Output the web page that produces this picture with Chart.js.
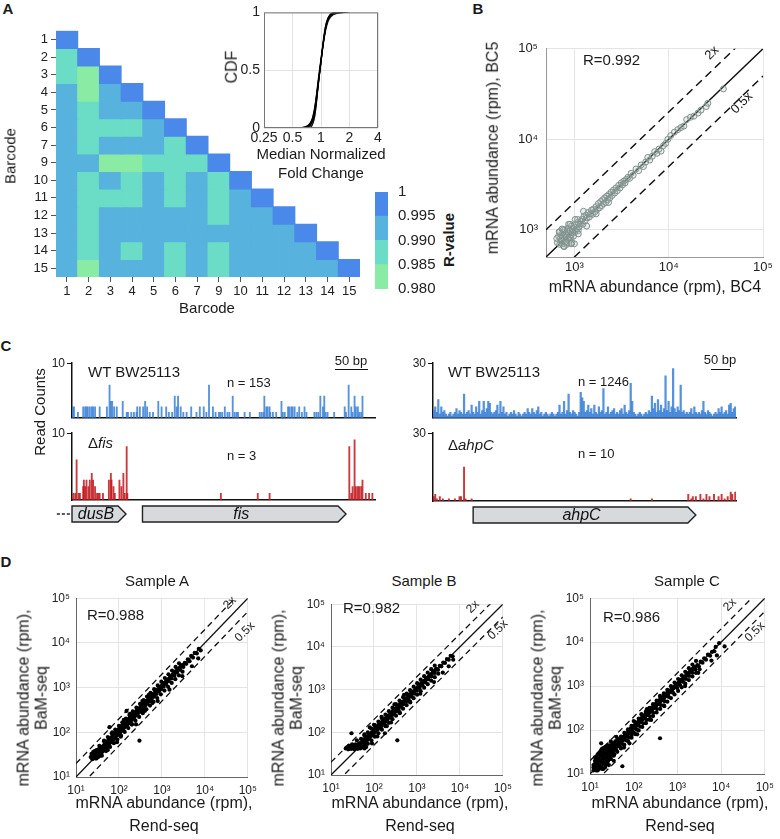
<!DOCTYPE html>
<html>
<head>
<meta charset="utf-8">
<script src="https://cdn.jsdelivr.net/npm/chart.js@4.4.1/dist/chart.umd.min.js"></script>
<style>
  html, body { margin: 0; padding: 0; background: #fff; }
  #stage { position: relative; width: 780px; height: 839px; overflow: hidden;
    font-family: 'Liberation Sans', Arial, sans-serif; color: #1a1a1a; }
  #stage canvas, #stage .t, #stage .sb { position: absolute; }
  .t { white-space: nowrap; line-height: 1.15; }
  .sb { height: 0; border-top: 1.5px solid #111; }
</style>
</head>
<body>
<div id="stage"></div>
<script>
// ---- A: barcode correlation heatmap ----
const barcodeLabels = ['1', '2', '3', '4', '5', '6', '7', '9', '10', '11', '12', '13', '14', '15'];
// lower triangle, one row per barcode
const rValues = [
  [1],
  [0.988, 1],
  [0.988, 0.983, 1],
  [0.992, 0.983, 0.992, 1],
  [0.992, 0.988, 0.992, 0.992, 1],
  [0.992, 0.988, 0.988, 0.988, 0.992, 1],
  [0.992, 0.988, 0.992, 0.992, 0.992, 0.988, 1],
  [0.992, 0.992, 0.983, 0.983, 0.988, 0.988, 0.988, 1],
  [0.992, 0.988, 0.992, 0.988, 0.992, 0.988, 0.992, 0.988, 1],
  [0.992, 0.988, 0.988, 0.988, 0.992, 0.988, 0.992, 0.988, 0.992, 1],
  [0.992, 0.988, 0.992, 0.992, 0.992, 0.992, 0.992, 0.988, 0.992, 0.992, 1],
  [0.992, 0.988, 0.992, 0.992, 0.992, 0.992, 0.992, 0.992, 0.992, 0.992, 0.992, 1],
  [0.992, 0.988, 0.992, 0.988, 0.992, 0.988, 0.992, 0.988, 0.992, 0.992, 0.992, 0.992, 1],
  [0.992, 0.983, 0.992, 0.992, 0.992, 0.988, 0.992, 0.988, 0.992, 0.992, 0.992, 0.992, 0.992, 1],
];
const rBreaks = [0.98, 0.985, 0.99, 0.995, 1];
const rColors = ['#8aeba5', '#6bdcc6', '#57b2dd', '#4a88e9'];

// inset: CDF of median normalized fold change (some of the overlapping curves)
const cdfTicks = [0.25, 0.5, 1, 2, 4];
const cdfYTicks = [0, 0.5, 1];
const cdfCurves = [
  [[0.55, 0], [0.7, 0.015], [0.78, 0.05], [0.84, 0.14], [0.9, 0.3], [0.95, 0.45], [1.0, 0.6], [1.05, 0.74], [1.1, 0.86], [1.18, 0.95], [1.3, 0.99], [1.5, 1], [1.9, 1]],
  [[0.65, 0], [0.76, 0.03], [0.83, 0.1], [0.88, 0.22], [0.93, 0.38], [0.97, 0.5], [1.02, 0.64], [1.08, 0.8], [1.15, 0.92], [1.25, 0.98], [1.45, 1]],
  [[0.72, 0], [0.8, 0.04], [0.86, 0.13], [0.91, 0.28], [0.96, 0.46], [1.0, 0.58], [1.05, 0.72], [1.12, 0.86], [1.2, 0.95], [1.35, 0.99], [1.6, 1]],
  [[0.6, 0], [0.74, 0.02], [0.82, 0.07], [0.87, 0.17], [0.92, 0.33], [0.98, 0.52], [1.04, 0.7], [1.1, 0.83], [1.17, 0.92], [1.28, 0.97], [1.55, 1], [2.0, 1]],
  [[0.78, 0], [0.83, 0.05], [0.88, 0.16], [0.93, 0.34], [0.97, 0.48], [1.01, 0.6], [1.06, 0.75], [1.1, 0.85], [1.16, 0.93], [1.24, 0.98], [1.35, 1]],
  [[0.68, 0], [0.79, 0.04], [0.85, 0.12], [0.9, 0.26], [0.95, 0.42], [0.99, 0.54], [1.03, 0.66], [1.09, 0.8], [1.14, 0.89], [1.22, 0.96], [1.4, 1]],
  [[0.58, 0], [0.72, 0.02], [0.81, 0.08], [0.87, 0.2], [0.93, 0.38], [0.99, 0.55], [1.06, 0.73], [1.14, 0.87], [1.22, 0.94], [1.35, 0.98], [1.7, 1]],
  [[0.75, 0], [0.81, 0.03], [0.86, 0.1], [0.9, 0.24], [0.94, 0.4], [0.98, 0.5], [1.03, 0.65], [1.08, 0.78], [1.13, 0.88], [1.2, 0.95], [1.3, 0.99], [1.45, 1]],
  [[0.7, 0], [0.8, 0.05], [0.85, 0.14], [0.89, 0.27], [0.94, 0.44], [1.0, 0.6], [1.07, 0.77], [1.15, 0.9], [1.3, 0.98], [1.8, 1]],
];

// ---- B: BC4 vs BC5 (rpm) ----
const bc4 = [660, 680, 700, 710, 720, 730, 740, 750, 760, 770, 780, 790, 800, 810, 820, 830, 840, 850, 860, 870,
  880, 890, 900, 910, 920, 930, 940, 950, 960, 980, 1000, 1010, 1030, 1050, 1070, 1090, 1100, 1120, 1150, 1180,
  1200, 1230, 1260, 1300, 1330, 1360, 1400, 1440, 1480, 1520, 1560, 1600, 1650, 1700, 1750, 1800, 1850, 1900, 1950, 2000,
  2050, 2100, 2150, 2200, 2260, 2320, 2380, 2450, 2520, 2600, 2680, 2760, 2850, 2950, 3050, 3150, 3250, 3350, 3450, 3550,
  3700, 3850, 4000, 4200, 4500, 4800, 5100, 5400, 5700, 6000, 6300, 6700, 7100, 7500, 7900, 8300, 8800, 9300, 9800, 10500,
  11500, 12500, 13500, 14500, 15500, 17000, 18500, 20500, 22000, 25000, 26000, 38000,
  700, 760, 820, 900, 1000, 1080, 1250, 1350, 1700, 2300,
  650, 690, 740, 780, 870, 920, 1020, 1100];
const bc5 = [720, 850, 690, 800, 760, 880, 700, 820, 930, 660, 780, 1000, 740, 870, 830, 690, 960, 790, 1050, 900,
  760, 840, 980, 810, 880, 1100, 720, 930, 1000, 850, 1060, 940, 990, 1150, 1020, 1210, 980, 1080, 1160, 1240,
  1300, 1150, 1400, 1250, 1450, 1350, 1550, 1380, 1500, 1650, 1480, 1700, 1580, 1800, 1680, 1950, 1750, 2050, 1850, 2150,
  1950, 2250, 2000, 2350, 2150, 2450, 2250, 2600, 2400, 2750, 2550, 2900, 2700, 3100, 2900, 3300, 3150, 3450, 3300, 3600,
  3800, 3700, 4200, 4000, 4700, 4500, 5200, 5000, 5600, 6300, 5900, 6500, 7300, 7000, 7800, 7400, 8500, 9000, 10000, 11000,
  12000, 12800, 13500, 14000, 16500, 17500, 18000, 19500, 21000, 23000, 25000, 36000,
  950, 1000, 720, 1150, 700, 1300, 1600, 1100, 1500, 2000,
  800, 950, 1020, 650, 1150, 700, 1300, 900];
const foldLines = [1, 2, 0.5];
const decadeTicks = [10, 100, 1000, 10000, 100000];
const decadeTickLabels = ['10¹', '10²', '10³', '10⁴', '10⁵'];

// ---- C: read counts along fis locus (bp) ----
const fisWtPos = [1, 3, 9, 17, 20, 22, 24, 27, 30, 32, 35, 42, 53, 57, 59, 61, 64, 68, 77, 83,
  85, 90, 94, 98, 99, 103, 108, 111, 114, 118, 123, 131, 136, 143, 147, 152, 156, 159, 161, 165,
  169, 174, 181, 189, 194, 200, 204, 208, 214, 218, 223, 225, 228, 232, 236, 239, 244, 247, 250, 252,
  262, 270, 285, 288, 291, 292, 295, 297, 300, 301, 305, 310, 318, 320, 323, 328, 330, 333, 335, 338,
  342, 345, 349, 353, 356, 368, 371, 374, 377, 381, 383, 385, 388, 398, 414, 416, 420, 424, 426, 429,
  431, 434, 436, 439, 441];
const fisWtCounts = [2, 2, 1, 2, 2, 2, 2, 2, 2, 2, 2, 2, 2, 6, 3, 3, 2, 2, 3, 1,
  1, 1, 1, 1, 2, 2, 2, 3, 2, 1, 1, 3, 2, 2, 1, 1, 4, 2, 4, 2,
  1, 1, 2, 1, 2, 2, 1, 6, 2, 1, 1, 1, 1, 2, 1, 1, 4, 1, 1, 1,
  1, 1, 1, 1, 1, 4, 2, 2, 2, 1, 1, 1, 3, 1, 1, 2, 2, 2, 2, 2,
  1, 2, 1, 2, 1, 1, 1, 1, 4, 2, 4, 1, 1, 1, 2, 1, 6, 2, 1, 4,
  2, 2, 1, 1, 4];
const fisMutPos = [2, 5, 7, 10, 12, 17, 18, 20, 22, 25, 27, 30, 32, 35, 38, 40, 42, 47, 56, 59,
  60, 63, 65, 72, 75, 78, 80, 83, 84, 226, 282, 300, 421, 424, 426, 429, 431, 434, 436, 439,
  441, 446, 451, 456];
const fisMutCounts = [1, 1, 6, 1, 1, 2, 3, 2, 3, 2, 3, 4, 3, 2, 1, 1, 1, 1, 3, 4,
  3, 2, 1, 3, 2, 4, 1, 8, 1, 1, 1, 1, 8, 1, 2, 9, 2, 2, 2, 2,
  3, 1, 1, 1];
const fisGenes = [{ name: 'dusB', start: 0, end: 82, leadFrom: -23 }, { name: 'fis', start: 107, end: 416 }];

// ---- C: read counts along ahpC locus (4-bp bins) ----
const ahpcWtCounts = [
  4, 6, 3, 10, 2, 6, 3, 4, 2, 1, 2, 3, 1, 2, 3, 5, 2, 4, 3, 2,
  13, 2, 3, 4, 2, 7, 3, 2, 6, 3, 9, 2, 4, 9, 3, 5, 9, 8, 3, 2,
  3, 4, 7, 2, 9, 3, 6, 2, 3, 1, 2, 3, 2, 4, 2, 1, 3, 2, 1, 2,
  3, 2, 5, 3, 2, 5, 3, 2, 4, 6, 2, 3, 1, 2, 3, 2, 1, 2, 3, 2,
  1, 2, 3, 7, 2, 3, 9, 2, 4, 13, 3, 2, 4, 3, 2, 1, 3, 14, 11, 9,
  3, 4, 7, 3, 5, 2, 7, 3, 2, 6, 3, 4, 16, 2, 3, 6, 2, 3, 4, 5,
  2, 3, 2, 4, 5, 2, 7, 3, 2, 4, 19, 9, 3, 2, 1, 2, 3, 2, 1, 2,
  3, 2, 4, 3, 12, 5, 8, 3, 10, 4, 7, 3, 5, 23, 4, 9, 3, 6, 27, 5,
  3, 6, 4, 18, 3, 4, 2, 3, 2, 3, 5, 2, 6, 3, 2, 3, 2, 4, 9, 3,
  2, 4, 3, 2, 1, 2, 3, 2, 5, 3, 6, 2, 3, 4, 2, 7, 8, 3, 5, 6];
const ahpcMutBins = [0, 1, 2, 4, 6, 10, 14, 17, 18, 20, 21, 25, 130, 144, 168, 170, 171, 173, 176, 178,
  180, 182, 185, 188, 190, 192, 194, 196, 197, 199];
const ahpcMutCounts = [2, 3, 1, 2, 1, 1, 1, 2, 2, 15, 1, 1, 1, 1, 3, 1, 2, 2, 3, 1,
  3, 2, 3, 2, 3, 1, 2, 4, 3, 4];
const ahpcGenes = [{ name: 'ahpC', start: 26, end: 173 }];

// ---- D: BaM-seq vs Rend-seq (rpm), [Rend-seq, BaM-seq] ----
const sampleA = [
  [22, 28], [23, 33], [24, 25], [25, 30], [25, 36], [26, 27], [27, 32], [27, 38], [28, 29], [29, 34],
  [30, 26], [30, 40], [31, 31], [32, 36], [33, 28], [34, 42], [35, 33], [36, 38], [37, 30], [38, 45],
  [40, 36], [41, 48], [43, 42], [45, 52], [46, 40], [48, 56], [50, 47], [52, 60], [54, 50], [56, 66],
  [58, 55], [60, 72], [62, 58], [65, 75], [67, 62], [70, 82], [72, 68], [75, 90], [78, 72], [80, 95],
  [83, 80], [86, 102], [90, 85], [93, 110], [96, 92], [100, 118], [100, 96], [105, 128], [108, 100], [112, 135],
  [116, 110], [120, 145], [125, 118], [130, 155], [135, 128], [140, 168], [145, 138], [150, 180], [158, 150], [165, 198],
  [172, 160], [180, 215], [188, 175], [196, 235], [205, 195], [215, 258], [225, 210], [235, 280], [245, 235], [258, 305],
  [270, 255], [285, 335], [300, 285], [315, 370], [330, 310], [350, 410], [370, 350], [390, 455], [410, 390], [435, 505],
  [460, 440], [490, 570], [520, 495], [550, 630], [580, 560], [620, 720], [660, 630], [700, 800], [750, 720], [800, 900],
  [850, 820], [900, 1020], [960, 920], [1020, 1150], [1100, 1050], [1180, 1300], [1260, 1200], [1350, 1500], [1450, 1400], [1560, 1700],
  [1680, 1600], [1800, 1950], [1950, 1850], [2100, 2300], [2250, 2150], [2450, 2650], [2650, 2500], [2900, 3100], [3150, 2900], [3400, 3600],
  [3700, 3400], [4000, 4300], [4400, 3900], [4800, 5100], [5300, 4700], [5800, 6000], [6500, 5800], [7200, 7400], [8000, 6800],
  [70, 100], [110, 80], [200, 150], [180, 260], [400, 300], [350, 500], [90, 60], [130, 190], [600, 450], [500, 700],
  [45, 65], [55, 40], [300, 65], [150, 300], [60, 130], [250, 150], [1500, 900], [3000, 1800], [5000, 3000], [800, 500], [7000, 4500],
  [26, 33], [28, 26], [29, 38], [31, 28], [33, 34], [34, 30], [36, 44], [38, 35], [39, 40], [42, 38],
  [44, 47], [47, 44], [49, 52], [51, 55], [53, 46], [55, 58], [57, 52], [59, 62], [61, 66], [64, 60],
  [66, 70], [68, 76], [71, 66], [73, 78], [76, 84], [79, 80], [82, 88], [85, 94], [88, 96], [91, 100],
  [95, 104], [98, 108], [103, 112], [107, 122], [111, 118], [115, 128], [119, 124], [123, 134], [128, 140], [133, 146],
  [138, 152], [143, 160], [148, 162], [154, 170], [160, 175], [168, 185], [176, 192], [184, 205], [192, 212], [200, 222],
  [210, 230], [220, 245], [230, 252], [240, 265], [252, 278], [265, 290], [278, 305], [292, 320], [308, 338], [322, 352],
  [340, 372], [360, 392], [380, 415], [400, 440], [425, 465], [450, 495], [475, 520], [505, 555], [535, 590], [565, 620],
  [600, 660], [640, 700], [680, 750], [725, 790], [775, 850], [825, 910], [880, 960], [940, 1030], [1000, 1100], [1070, 1170],
  [1140, 1250], [1220, 1330], [1300, 1420], [1400, 1520], [1500, 1640], [1620, 1760], [1740, 1880], [1880, 2030], [2020, 2180], [2180, 2340],
  [2350, 2520], [2550, 2730], [2750, 2950], [3000, 3200],
  [35, 50], [45, 63], [55, 78], [68, 95], [82, 115], [100, 140], [120, 168], [145, 203], [175, 245], [210, 295],
  [255, 357], [310, 434], [375, 525], [450, 630], [545, 763], [660, 924], [800, 1120], [970, 1360], [1170, 1640], [1420, 1990],
  [1720, 2400], [2080, 2900], [2500, 3500],
  [40, 30], [50, 38], [62, 47], [76, 57], [92, 69], [112, 84], [136, 102], [165, 124], [200, 150], [242, 182],
  [295, 221], [358, 268], [435, 326], [528, 396], [640, 480], [777, 583], [943, 707], [1145, 859], [1390, 1040], [1690, 1270],
  [2050, 1540], [2490, 1870], [3020, 2270]];
const sampleB = [
  [22, 42], [25, 40], [28, 44], [30, 41], [32, 46], [35, 40], [38, 43], [40, 48], [42, 41], [45, 45],
  [48, 42], [50, 50], [53, 44], [56, 47], [60, 42], [63, 52], [66, 45], [70, 55], [34, 50], [45, 55],
  [55, 60], [58, 68], [62, 64], [66, 75], [70, 68], [74, 85], [78, 75], [82, 92], [86, 82], [90, 100],
  [95, 90], [100, 112], [100, 96], [106, 125], [110, 105], [116, 135], [122, 115], [128, 150], [135, 128], [142, 165],
  [150, 140], [158, 185], [166, 160], [175, 205], [185, 175], [195, 225], [205, 198], [218, 250], [230, 220], [245, 280],
  [260, 245], [275, 315], [290, 275], [310, 355], [330, 310], [350, 400], [375, 350], [400, 455], [425, 400], [455, 520],
  [485, 455], [520, 590], [560, 520], [600, 680], [640, 600], [690, 780], [740, 690], [800, 900], [860, 800], [930, 1050],
  [1000, 940], [1080, 1200], [1160, 1100], [1250, 1400], [1350, 1280], [1460, 1600], [1580, 1500], [1700, 1850], [1850, 1750], [2000, 2200],
  [2180, 2050], [2380, 2600], [2600, 2450], [2850, 3050], [3100, 2900], [3400, 3600], [3700, 3500], [4100, 4300], [4500, 4200], [5000, 5200],
  [5500, 5000], [6100, 6200], [6800, 6000],
  [80, 130], [120, 80], [200, 140], [150, 230], [400, 280], [300, 450], [100, 150], [60, 90], [700, 500], [500, 750],
  [250, 170], [40, 65], [30, 95], [350, 65], [180, 95], [1200, 800], [2500, 1500], [4000, 2500], [5500, 3500], [7000, 5000], [90, 55],
  [52, 56], [57, 62], [61, 58], [64, 70], [68, 64], [72, 78], [76, 72], [80, 88], [84, 86], [88, 94],
  [92, 96], [97, 104], [102, 108], [108, 114], [113, 120], [119, 126], [125, 134], [131, 140], [138, 146], [146, 154],
  [154, 164], [162, 172], [170, 182], [180, 190], [190, 202], [200, 212], [212, 226], [224, 238], [237, 252], [252, 268],
  [267, 284], [282, 300], [300, 318], [318, 338], [338, 358], [360, 382], [382, 405], [406, 430], [432, 458], [460, 488],
  [490, 520], [522, 555], [556, 590], [592, 628], [630, 668], [672, 712], [716, 760], [764, 810], [815, 865], [870, 922],
  [930, 985], [995, 1055], [1065, 1130], [1140, 1210], [1220, 1295], [1310, 1390], [1400, 1490], [1500, 1600], [1610, 1720], [1730, 1850],
  [1860, 1990], [2000, 2140], [2150, 2300], [2320, 2480], [2500, 2680], [2700, 2900],
  [24, 45], [27, 41], [29, 47], [33, 43], [36, 47], [39, 45], [43, 49], [47, 47], [51, 45], [55, 50],
  [58, 46], [62, 48], [26, 48], [31, 52], [37, 52], [44, 52], [49, 56], [54, 54], [59, 57], [65, 60],
  [50, 70], [60, 84], [72, 100], [87, 122], [105, 147], [127, 178], [153, 214], [185, 259], [223, 312], [270, 378],
  [326, 456], [394, 552], [476, 666], [575, 805], [694, 972], [838, 1173], [1012, 1417], [1222, 1711], [1476, 2066], [1782, 2495],
  [2152, 3013], [2600, 3640],
  [60, 45], [72, 54], [87, 65], [105, 79], [127, 95], [153, 115], [185, 139], [223, 167], [270, 203], [326, 245],
  [394, 296], [476, 357], [575, 431], [694, 521], [838, 629], [1012, 759], [1222, 917], [1476, 1107], [1782, 1337], [2152, 1614],
  [2600, 1950], [3140, 2355]];
const sampleC = [
  [12, 12], [12, 16], [13, 20], [13, 13], [14, 25], [14, 15], [15, 18], [15, 12], [16, 30], [16, 22],
  [17, 14], [17, 26], [18, 19], [18, 35], [19, 13], [19, 24], [20, 30], [20, 17], [21, 40], [22, 22],
  [22, 14], [23, 28], [24, 35], [24, 19], [25, 45], [26, 25], [27, 16], [28, 32], [29, 40], [30, 22],
  [32, 48], [34, 30], [36, 42], [38, 55], [40, 35], [42, 50], [45, 62], [48, 42], [50, 58], [53, 70],
  [56, 48], [60, 68], [63, 82], [67, 58], [70, 80], [74, 95], [78, 68], [82, 92], [86, 110], [90, 78],
  [95, 105], [100, 125], [100, 88], [106, 118], [112, 140], [118, 102], [125, 140], [132, 165], [140, 120], [148, 170],
  [156, 195], [165, 142], [175, 200], [185, 230], [196, 170], [208, 240], [220, 275], [235, 205], [250, 290], [265, 330],
  [280, 245], [300, 345], [320, 395], [340, 300], [365, 420], [390, 480], [415, 370], [445, 510], [475, 580], [510, 455],
  [550, 630], [590, 720], [630, 570], [680, 780], [730, 860], [790, 710], [850, 970], [920, 1080], [990, 900],
  [1070, 1200], [1150, 1050], [1250, 1400], [1350, 1250], [1460, 1600], [1580, 1450], [1700, 1850], [1850, 1700], [2000, 2200], [2200, 2000],
  [2400, 2600], [2600, 2400], [2850, 3000], [3100, 2800], [3400, 3600], [3750, 3400], [4100, 4300], [4500, 4000], [5000, 5200], [5600, 4900],
  [6200, 6000], [7000, 6200], [7500, 7800],
  [40, 70], [60, 40], [100, 160], [120, 80], [200, 300], [250, 170], [30, 55], [80, 50], [500, 350], [400, 600],
  [150, 230], [35, 20], [55, 15], [18, 50], [400, 65], [1500, 1000], [3000, 2000], [6000, 3800], [8000, 5000], [12000, 8000], [9000, 9500],
  [12, 14], [13, 17], [13, 24], [14, 12], [14, 19], [15, 22], [15, 28], [16, 16], [16, 13], [17, 20],
  [17, 32], [18, 15], [18, 27], [19, 21], [19, 38], [20, 13], [20, 24], [21, 18], [21, 33], [22, 28],
  [23, 16], [23, 42], [24, 24], [25, 30], [25, 18], [26, 38], [26, 20], [27, 28], [28, 22], [28, 45],
  [29, 28], [30, 35], [31, 26], [32, 40], [33, 32], [34, 50], [35, 36], [36, 28], [37, 46], [39, 40],
  [41, 44], [44, 52], [47, 50], [51, 60], [55, 58], [58, 64], [62, 72], [66, 70], [70, 76], [75, 84],
  [80, 86], [85, 96], [90, 98], [96, 108], [102, 112], [108, 124], [115, 126], [122, 138], [130, 146], [138, 152],
  [146, 164], [155, 174], [164, 184], [174, 195], [185, 208], [197, 220], [210, 236], [224, 250], [238, 266], [254, 284],
  [270, 302], [288, 322], [306, 342], [326, 364], [348, 388], [370, 414], [395, 440], [420, 470], [448, 500], [478, 534],
  [510, 570], [545, 608], [582, 650], [620, 694], [662, 740], [706, 790], [754, 842], [805, 900], [860, 960], [920, 1025],
  [985, 1095], [1050, 1170], [1125, 1250], [1200, 1340], [1290, 1430], [1380, 1530], [1480, 1640], [1590, 1760], [1700, 1890], [1830, 2030],
  [1960, 2180], [2110, 2340], [2270, 2510], [2450, 2700],
  [20, 28], [24, 34], [29, 41], [35, 49], [42, 59], [51, 71], [61, 86], [74, 104], [89, 125], [108, 151],
  [130, 182], [157, 220], [190, 266], [229, 321], [277, 388], [334, 468], [404, 566], [488, 683], [589, 825], [711, 995],
  [859, 1203], [1037, 1452], [1253, 1754], [1513, 2118], [1827, 2558], [2206, 3088], [2665, 3731],
  [24, 18], [29, 22], [35, 26], [42, 32], [51, 38], [61, 46], [74, 56], [89, 67], [108, 81], [130, 98],
  [157, 118], [190, 143], [229, 172], [277, 208], [334, 251], [404, 303], [488, 366], [589, 442], [711, 533], [859, 644],
  [1037, 778], [1253, 940], [1513, 1135], [1827, 1370], [2206, 1655], [2665, 1999], [3218, 2414]];

// ------------------------------------------------------------------
Chart.defaults.font.family = "'Liberation Sans', Arial, sans-serif";
Chart.defaults.color = '#222';

const stage = document.getElementById('stage');

function place(id, area, pad) {
  const c = document.createElement('canvas');
  const w = area.width + pad.left + pad.right;
  const h = area.height + pad.top + pad.bottom;
  c.id = id;
  c.width = w;
  c.height = h;
  c.style.left = (area.left - pad.left) + 'px';
  c.style.top = (area.top - pad.top) + 'px';
  c.style.width = w + 'px';
  c.style.height = h + 'px';
  stage.appendChild(c);
  return c;
}

function label(html, x, y, opts = {}) {
  const d = document.createElement('div');
  d.className = 't';
  d.innerHTML = html;
  d.style.left = x + 'px';
  d.style.top = y + 'px';
  d.style.fontSize = (opts.size || 15) + 'px';
  if (opts.bold) d.style.fontWeight = 'bold';
  if (opts.align) d.style.textAlign = opts.align;
  const ax = opts.anchor === 'left' ? '0' : '-50%';
  d.style.transform = `translate(${ax}, -50%)` + (opts.rotate ? ` rotate(${opts.rotate}deg)` : '');
  stage.appendChild(d);
}

function scaleBar(x0, x1, y) {
  const d = document.createElement('div');
  d.className = 'sb';
  d.style.left = x0 + 'px';
  d.style.top = y + 'px';
  d.style.width = (x1 - x0) + 'px';
  stage.appendChild(d);
}

const fixW = (w) => (scale) => { scale.width = w; };
const fixH = (h) => (scale) => { scale.height = h; };

const base = () => ({
  responsive: false,
  animation: false,
  devicePixelRatio: 1,
  events: [],
});
const noLegend = { legend: { display: false }, tooltip: { enabled: false } };

function colorFor(v) {
  const k = rBreaks.findIndex((b, i) => i > 0 && v < b);
  return rColors[k === -1 ? rColors.length - 1 : k - 1];
}

const framePlugin = {
  id: 'frame',
  afterDatasetsDraw(chart) {
    const { ctx, chartArea: a } = chart;
    ctx.save();
    ctx.strokeStyle = '#777';
    ctx.lineWidth = 1;
    ctx.strokeRect(a.left + 0.5, a.top + 0.5, a.width - 1, a.height - 1);
    ctx.restore();
  },
};

const genePlugin = {
  id: 'genes',
  afterDraw(chart, args, opts) {
    const { ctx, chartArea } = chart;
    const xs = chart.scales.x;
    const top = chartArea.bottom + 6;
    const h = 16;
    opts.list.forEach((g) => {
      const x0 = xs.getPixelForValue(g.start);
      const x1 = xs.getPixelForValue(g.end);
      ctx.save();
      ctx.strokeStyle = '#222';
      ctx.lineWidth = 1.4;
      if (g.leadFrom !== undefined) {
        ctx.setLineDash([3, 2]);
        ctx.beginPath();
        ctx.moveTo(xs.getPixelForValue(g.leadFrom), top + h / 2);
        ctx.lineTo(x0, top + h / 2);
        ctx.stroke();
        ctx.setLineDash([]);
      }
      ctx.beginPath();
      ctx.moveTo(x0, top);
      ctx.lineTo(x1 - 8, top);
      ctx.lineTo(x1, top + h / 2);
      ctx.lineTo(x1 - 8, top + h);
      ctx.lineTo(x0, top + h);
      ctx.closePath();
      ctx.fillStyle = '#d6dadd';
      ctx.fill();
      ctx.stroke();
      ctx.fillStyle = '#111';
      ctx.font = "italic 16px 'Liberation Sans', Arial, sans-serif";
      ctx.textAlign = 'center';
      ctx.textBaseline = 'middle';
      ctx.fillText(g.name, (x0 + x1) / 2 - 3, top + h / 2 + 1);
      ctx.restore();
    });
  },
};

// ---- A: heatmap ----
const heatDatasets = rValues.map((row, i) => ({
  data: row.map((v, j) => ({ x: barcodeLabels[j], y: [i - 0.5, i + 0.5] })),
  backgroundColor: row.map(colorFor),
  borderWidth: 0,
  inflateAmount: 0.5,
  grouped: false,
  barPercentage: 1,
  categoryPercentage: 1,
}));

new Chart(place('heatmap', { left: 56, top: 30, width: 304, height: 247 }, { left: 56, top: 10, right: 10, bottom: 24 }), {
  type: 'bar',
  data: { labels: barcodeLabels, datasets: heatDatasets },
  options: {
    ...base(),
    plugins: noLegend,
    layout: { padding: { top: 10, right: 10 } },
    scales: {
      x: {
        type: 'category',
        offset: true,
        grid: { display: true, drawOnChartArea: false, offset: false, tickLength: 5, color: '#555' },
        border: { display: false },
        ticks: { padding: 2, font: { size: 13 }, autoSkip: false, maxRotation: 0 },
        afterFit: fixH(24),
      },
      y: {
        type: 'linear',
        reverse: true,
        min: -0.5,
        max: barcodeLabels.length - 0.5,
        afterBuildTicks: (s) => { s.ticks = barcodeLabels.map((_, i) => ({ value: i })); },
        ticks: { callback: (v) => barcodeLabels[v], padding: 3, font: { size: 13 } },
        grid: { drawOnChartArea: false, tickLength: 5, color: '#555' },
        border: { display: false },
        afterFit: fixW(56),
      },
    },
  },
});

// colour bar
new Chart(place('colorbar', { left: 375, top: 189, width: 13, height: 103 }, { left: 0, top: 8, right: 52, bottom: 8 }), {
  type: 'bar',
  data: {
    labels: [''],
    datasets: rColors.map((c, i) => ({
      data: [[rBreaks[i], rBreaks[i + 1]]],
      backgroundColor: c,
      borderWidth: 0,
      inflateAmount: 0.5,
      grouped: false,
      barPercentage: 1,
      categoryPercentage: 1,
    })),
  },
  options: {
    ...base(),
    plugins: noLegend,
    layout: { padding: { top: 8, bottom: 8 } },
    scales: {
      x: { display: false },
      y: {
        position: 'right',
        min: rBreaks[0],
        max: rBreaks[rBreaks.length - 1],
        afterBuildTicks: (s) => { s.ticks = rBreaks.map((v) => ({ value: v })); },
        ticks: { callback: (v) => (v === 1 ? '1' : v.toFixed(3)), padding: 2, font: { size: 15 } },
        grid: { display: false },
        border: { display: false },
        afterFit: fixW(52),
      },
    },
  },
});

// inset CDF
new Chart(place('cdf', { left: 264, top: 7, width: 114, height: 121 }, { left: 40, top: 7, right: 16, bottom: 20 }), {
  type: 'scatter',
  data: {
    datasets: cdfCurves.map((curve) => ({
      data: curve.map(([x, y]) => ({ x, y })),
      showLine: true,
      borderColor: 'rgba(0,0,0,0.8)',
      borderWidth: 1.1,
      pointRadius: 0,
      cubicInterpolationMode: 'monotone',
    })),
  },
  options: {
    ...base(),
    plugins: noLegend,
    layout: { padding: { top: 7, right: 16 } },
    scales: {
      x: {
        type: 'logarithmic',
        min: 0.25,
        max: 4,
        afterBuildTicks: (s) => { s.ticks = cdfTicks.map((v) => ({ value: v })); },
        ticks: { callback: (v) => String(v), padding: 2, font: { size: 14 }, autoSkip: false, maxRotation: 0, minRotation: 0 },
        grid: { color: '#e2e2e2', drawTicks: false },
        border: { display: false },
        afterFit: fixH(20),
      },
      y: {
        min: 0,
        max: 1,
        afterBuildTicks: (s) => { s.ticks = cdfYTicks.map((v) => ({ value: v })); },
        ticks: { callback: (v) => String(v), padding: 4, font: { size: 14 } },
        grid: { color: '#e2e2e2', drawTicks: false },
        border: { display: false },
        afterFit: fixW(40),
      },
    },
  },
  plugins: [framePlugin],
});

// ---- log-log scatter panels (B and D) ----
function foldSets(min, max, dash, width) {
  return foldLines.map((k) => ({
    data: [{ x: min, y: k * min }, { x: max, y: k * max }],
    showLine: true,
    pointRadius: 0,
    borderColor: '#111',
    borderWidth: width,
    borderDash: k === 1 ? [] : dash,
    order: 1,
  }));
}

function logAxis(o, dir) {
  return {
    type: 'logarithmic',
    min: o.min,
    max: o.max,
    afterBuildTicks: (s) => {
      s.ticks = decadeTicks.filter((v) => v >= o.min && v <= o.max).map((v) => ({ value: v }));
    },
    ticks: {
      callback: (v) => decadeTickLabels[decadeTicks.indexOf(v)],
      font: { size: o.font },
      padding: dir === 'x' ? o.xPad : o.yPad,
      maxRotation: 0,
      autoSkip: false,
    },
    grid: { color: '#e4e4e4', drawTicks: false },
    border: { color: o.axisColor, width: 1 },
    afterFit: dir === 'x' ? fixH(o.xH) : fixW(o.yW),
  };
}

function logPanel(id, area, pts, o) {
  const pad = { left: o.yW, top: 10, right: o.right, bottom: o.xH };
  return new Chart(place(id, area, pad), {
    type: 'scatter',
    data: {
      datasets: [
        { data: pts, ...o.point, order: 0 },
        ...foldSets(o.min, o.max, o.dash, o.lineWidth),
      ],
    },
    options: {
      ...base(),
      plugins: noLegend,
      layout: { padding: { top: pad.top, right: pad.right } },
      scales: { x: logAxis(o, 'x'), y: logAxis(o, 'y') },
    },
  });
}

logPanel('bc4bc5', { left: 546, top: 43, width: 217, height: 214 },
  bc4.map((x, i) => ({ x, y: bc5[i] })), {
    min: 500, max: 100000, yW: 50, xH: 24, right: 15, font: 13, xPad: 3, yPad: 8,
    axisColor: '#999', dash: [8, 5], lineWidth: 1.5,
    point: { pointRadius: 3, pointBorderWidth: 1, pointBorderColor: '#7f918c', pointBackgroundColor: 'rgba(170,185,180,0.25)' },
  });

const dOpts = {
  min: 10, max: 100000, yW: 42, xH: 22, right: 10, font: 12, xPad: 6, yPad: 6,
  axisColor: '#666', dash: [6, 4], lineWidth: 1.3,
  point: { pointRadius: 2.1, pointBorderWidth: 0, pointBackgroundColor: '#000' },
};
const asPoints = (arr) => arr.map(([x, y]) => ({ x, y }));
logPanel('sampleA', { left: 76, top: 595, width: 177, height: 182 }, asPoints(sampleA), dOpts);
logPanel('sampleB', { left: 331, top: 601, width: 177, height: 174 }, asPoints(sampleB), dOpts);
logPanel('sampleC', { left: 590, top: 595, width: 180, height: 179 }, asPoints(sampleC), dOpts);

// ---- C: read count tracks ----
function track(id, area, pts, color, yMax, xRange, thickness, genes) {
  const pad = { left: 34, top: 8, right: 6, bottom: genes ? 28 : 0 };
  return new Chart(place(id, area, pad), {
    type: 'bar',
    data: { datasets: [{ data: pts, backgroundColor: color, barThickness: thickness, borderWidth: 0 }] },
    options: {
      ...base(),
      plugins: { ...noLegend, genes: { list: genes || [] } },
      layout: { padding: { top: pad.top, right: pad.right, bottom: pad.bottom } },
      scales: {
        x: {
          type: 'linear',
          min: xRange[0],
          max: xRange[1],
          offset: false,
          ticks: { display: false },
          grid: { display: false },
          border: { color: '#111', width: 1.5 },
          afterFit: fixH(0),
        },
        y: {
          min: 0,
          max: yMax,
          afterBuildTicks: (s) => { s.ticks = [{ value: yMax }]; },
          ticks: { padding: 2, font: { size: 12 } },
          grid: { drawOnChartArea: false, tickLength: 5, color: '#111' },
          border: { color: '#111', width: 1.5 },
          afterFit: fixW(pad.left),
        },
      },
    },
    plugins: genes ? [genePlugin] : [],
  });
}

const blue = 'rgba(58,128,214,0.85)';
const red = 'rgba(192,24,28,0.85)';
track('fisWt', { left: 72, top: 362, width: 303, height: 65 },
  fisWtPos.map((x, i) => ({ x, y: fisWtCounts[i] })), blue, 10, [0, 460], 1.2);
track('fisMut', { left: 72, top: 432, width: 303, height: 68 },
  fisMutPos.map((x, i) => ({ x, y: fisMutCounts[i] })), red, 10, [0, 460], 1.2, fisGenes);
track('ahpcWt', { left: 433, top: 362, width: 303, height: 65 },
  ahpcWtCounts.map((y, i) => ({ x: i, y })), blue, 30, [-0.5, 199.5], 1.6);
track('ahpcMut', { left: 433, top: 432, width: 303, height: 69 },
  ahpcMutBins.map((x, i) => ({ x, y: ahpcMutCounts[i] })), red, 30, [-0.5, 199.5], 1.3, ahpcGenes);

// ---- text ----
label('A', 8, 9, { size: 15, bold: true });
label('B', 478, 9, { size: 15, bold: true });
label('C', 6, 346, { size: 15, bold: true });
label('D', 6, 562, { size: 15, bold: true });

label('Barcode', 10, 156, { size: 15, rotate: -90 });
label('Barcode', 207, 308, { size: 15 });
label('CDF', 232, 67, { size: 16, rotate: -90 });
label('Median Normalized', 321, 154, { size: 15 });
label('Fold Change', 321, 173, { size: 15 });
label('R-value', 449, 240, { size: 15, bold: true, rotate: -90 });

label('mRNA abundance (rpm), BC5', 493, 148, { size: 16, rotate: -90 });
label('mRNA abundance (rpm), BC4', 655, 287, { size: 16 });
label('R=0.992', 583, 60, { size: 15, anchor: 'left' });
label('2x', 712, 53, { size: 13, rotate: -45 });
label('0.5x', 742, 103, { size: 13, rotate: -45 });

label('Read Counts', 40, 412, { size: 15, rotate: -90 });
label('WT BW25113', 88, 372, { size: 15, anchor: 'left' });
label('n = 153', 227, 383, { size: 13, anchor: 'left' });
label('50 bp', 351, 361, { size: 13 });
scaleBar(335, 368, 369);
label('Δ<i>fis</i>', 88, 443, { size: 15, anchor: 'left' });
label('n = 3', 227, 456, { size: 13, anchor: 'left' });
label('WT BW25113', 448, 372, { size: 15, anchor: 'left' });
label('n = 1246', 578, 382, { size: 13, anchor: 'left' });
label('50 bp', 720, 360, { size: 13 });
scaleBar(711, 730, 369);
label('Δ<i>ahpC</i>', 448, 445, { size: 15, anchor: 'left' });
label('n = 10', 578, 454, { size: 13, anchor: 'left' });

const dTitles = [
  { name: 'Sample A', cx: 157, yx: 33, xc: 164, r: 'R=0.988', rx: 87, ry: 615, two: [230, 603], half: [245, 632] },
  { name: 'Sample B', cx: 424, yx: 288, xc: 420, r: 'R=0.982', rx: 343, ry: 608, two: [473, 607], half: [498, 630] },
  { name: 'Sample C', cx: 687, yx: 547, xc: 680, r: 'R=0.986', rx: 603, ry: 617, two: [730, 605], half: [755, 632] },
];
dTitles.forEach((p) => {
  label(p.name, p.cx, 581, { size: 15 });
  label('mRNA abundance (rpm),<br>BaM-seq', p.yx, 698, { size: 16, rotate: -90, align: 'center' });
  label('mRNA abundance (rpm),', p.xc, 803, { size: 16 });
  label('Rend-seq', p.xc, 826, { size: 16 });
  label(p.r, p.rx, p.ry, { size: 15, anchor: 'left' });
  label('2x', p.two[0], p.two[1], { size: 12, rotate: -45 });
  label('0.5x', p.half[0], p.half[1], { size: 12, rotate: -45 });
});
</script>
</body>
</html>
